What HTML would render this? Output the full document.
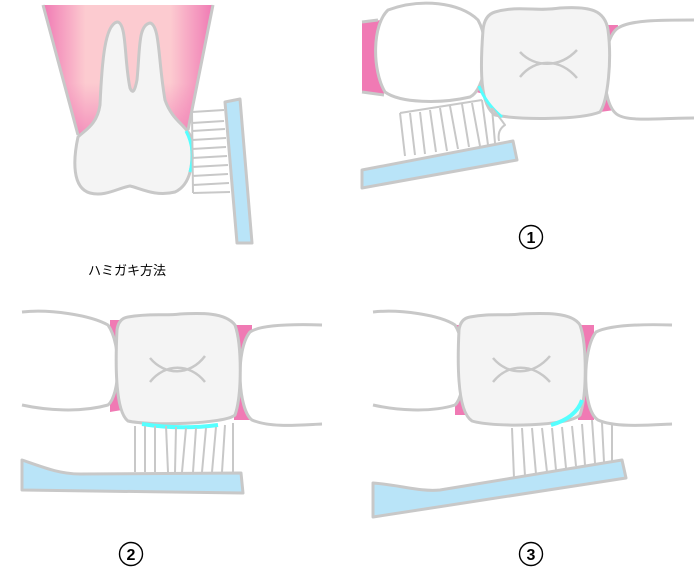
<!DOCTYPE html>
<html><head><meta charset="utf-8"><style>
html,body{margin:0;padding:0;background:#fff;width:694px;height:579px;overflow:hidden}
svg{display:block}
text{font-family:"Liberation Sans","Noto Sans CJK JP",sans-serif}
</style></head><body>
<svg width="694" height="579" viewBox="0 0 694 579" xmlns="http://www.w3.org/2000/svg">
<defs>
<linearGradient id="gum" x1="0" x2="1" y1="0" y2="0">
<stop offset="0" stop-color="#f07ab4"/><stop offset="0.25" stop-color="#fccbd0"/><stop offset="0.75" stop-color="#fccbd0"/><stop offset="1" stop-color="#f07ab4"/>
</linearGradient>
<linearGradient id="gumv" x1="0" x2="0" y1="0" y2="1">
<stop offset="0" stop-color="#f07ab4" stop-opacity="0"/><stop offset="0.6" stop-color="#f07ab4" stop-opacity="0"/><stop offset="1" stop-color="#f07ab4" stop-opacity="0.7"/>
</linearGradient>
</defs>
<g stroke="#c8c8c8" stroke-width="3" stroke-linejoin="round">
<!-- Panel 0 -->
<path d="M43,5 L213,5 L188,130 L78,135 Z" fill="url(#gum)" stroke="none"/>
<path d="M43,5 L213,5 L188,130 L78,135 Z" fill="url(#gumv)" stroke="none"/>
<path d="M43,5 L78,135 M213,5 L188,130" fill="none"/>
<path d="M100,105 C102,60 105,25 117,22 C127,22 124,60 130,88 C133,95 135,90 137,80 C140,50 138,25 150,23 C160,25 158,60 165,100 C172,120 185,125 190,135 C195,165 190,185 175,192 C155,197 140,188 130,186 C118,188 105,197 90,193 C72,188 73,160 78,137 C85,130 97,125 100,105 Z" fill="#f4f4f4"/>
<path d="M186,131 Q196,150 190,172" stroke="#5ff" fill="none" stroke-width="3"/>
<g stroke-width="2" fill="none">
<path d="M192,112 L224,110 M192,123 L224,121 M192,131 L225,129 M192,140 L226,138 M192,149 L226,147 M192,158 L227,156 M192,167 L228,165 M192,176 L228,174 M193,185 L229,183 M193,193 L230,192 M192,112 L193,193"/>
</g>
<path d="M225,102 L240,99 L252,243 L237,243 Z" fill="#b9e4f8"/>
<!-- Panel 1 -->
<path d="M362,22 L382,20 L384,95 L362,92 Z" fill="#f07ab4" stroke="none"/>
<path d="M362,22 L378,20 M362,92 L384,95" fill="none"/>
<path d="M600,25 L618,25 L615,110 L600,112 Z" fill="#f07ab4" stroke="none"/>
<path d="M478,30 L490,28 L488,95 L476,92 Z" fill="#f07ab4" stroke="none"/>
<path d="M694,20 C660,20 630,20 618,28 C600,40 600,105 618,115 C630,122 660,118 694,118" fill="#fff"/>
<path d="M388,10 C420,-2 460,2 478,20 C492,45 485,90 470,97 C440,104 400,103 385,92 C372,70 372,25 388,10 Z" fill="#fff"/>
<path d="M495,12 C520,5 535,12 560,8 C590,6 605,10 608,30 C612,60 608,100 600,112 C580,120 520,120 495,115 C480,105 480,70 483,30 C484,20 488,14 495,12 Z" fill="#f4f4f4"/>
<path d="M520,52 C535,68 560,68 577,50 M520,77 C535,58 560,58 577,78" fill="none" stroke-width="2.5"/>
<path d="M479,86 Q486,104 502,117" stroke="#5ff" fill="none" stroke-width="3"/>
<g stroke-width="2" fill="none">
<path d="M400,113 L405,156 M410,113 L415,155 M420,112 L425,154 M430,110 L436,152 M440,108 L447,151 M450,106 L458,149 M462,104 L469,147 M472,103 L480,146 M482,100 L488,145 M492,108 L495,143 M400,113 L482,100 M492,108 Q500,118 505,125 Q497,130 499,141"/>
</g>
<path d="M362,170 L513,141 L517,160 L362,188 Z" fill="#b9e4f8"/>
<!-- Panel 2 -->
<path d="M110,320 L122,320 L122,410 L110,412 Z" fill="#f07ab4" stroke="none"/>
<path d="M234,325 L252,325 L252,420 L234,420 Z" fill="#f07ab4" stroke="none"/>
<path d="M322,325 C290,324 260,325 250,332 C235,350 238,410 252,420 C270,428 300,425 322,424" fill="#fff"/>
<path d="M22,312 C50,309 90,315 108,325 C122,345 120,395 108,405 C80,413 45,410 22,405" fill="#fff"/>
<path d="M128,317 C150,313 165,316 180,314 C200,313 225,312 235,325 C242,345 242,395 235,415 C225,424 150,426 128,421 C116,412 115,370 117,330 C118,322 122,318 128,317 Z" fill="#f4f4f4"/>
<path d="M150,358 C165,376 190,376 205,356 M150,382 C165,363 190,363 205,382" fill="none" stroke-width="2.5"/>
<path d="M142,424 Q180,430 218,425" stroke="#5ff" fill="none" stroke-width="4"/>
<g stroke-width="2" fill="none">
<path d="M135,426 L135,472 M145,426 L145,472 M155,426 L155,472 M166,426 L168,472 M176,427 L175,472 M186,428 L182,472 M196,428 L193,472 M206,428 L202,472 M216,427 L212,472 M225,425 L222,472 M233,423 L233,472"/>
</g>
<path d="M22,460 C45,468 60,474 80,474 L241,473 L243,493 L22,490 Z" fill="#b9e4f8"/>
<!-- Panel 3 -->
<path d="M455,325 L470,325 L470,415 L455,415 Z" fill="#f07ab4" stroke="none"/>
<path d="M578,325 L594,325 L594,420 L578,420 Z" fill="#f07ab4" stroke="none"/>
<path d="M672,325 C640,324 610,325 596,332 C582,350 582,410 598,420 C615,428 650,425 672,424" fill="#fff"/>
<path d="M373,312 C400,309 440,315 455,325 C468,345 466,395 455,405 C430,413 395,410 373,405" fill="#fff"/>
<path d="M470,317 C490,313 505,316 520,314 C545,313 572,312 580,325 C587,345 587,395 580,415 C570,426 495,428 472,421 C458,412 457,370 459,330 C460,322 464,318 470,317 Z" fill="#f4f4f4"/>
<path d="M493,358 C508,376 533,376 550,356 M493,382 C508,363 533,363 550,382" fill="none" stroke-width="2.5"/>
<path d="M551,425 Q576,418 582,400" stroke="#5ff" fill="none" stroke-width="4"/>
<g stroke-width="2" fill="none">
<path d="M512,428 L514,478 M522,428 L525,476 M532,428 L536,474 M542,428 L547,472 M552,428 L556,470 M562,427 L566,468 M572,426 L576,466 M582,424 L585,465 M592,420 L595,463 M602,423 L604,462 M612,425 L612,461"/>
</g>
<path d="M373,483 C400,485 420,492 440,490 L622,460 L626,478 L373,517 Z" fill="#b9e4f8"/>
</g>
<!-- labels -->
<text x="88" y="275" font-size="13" fill="#000">ハミガキ方法</text>
<g fill="none" stroke="#000" stroke-width="1.4">
<circle cx="531" cy="237" r="11.5"/>
<circle cx="131" cy="554" r="11.5"/>
<circle cx="531" cy="554" r="11.5"/>
</g>
<g font-size="16" font-weight="bold" text-anchor="middle" fill="#000">
<text x="531" y="243">1</text>
<text x="131" y="560">2</text>
<text x="531" y="560">3</text>
</g>
</svg>
</body></html>
